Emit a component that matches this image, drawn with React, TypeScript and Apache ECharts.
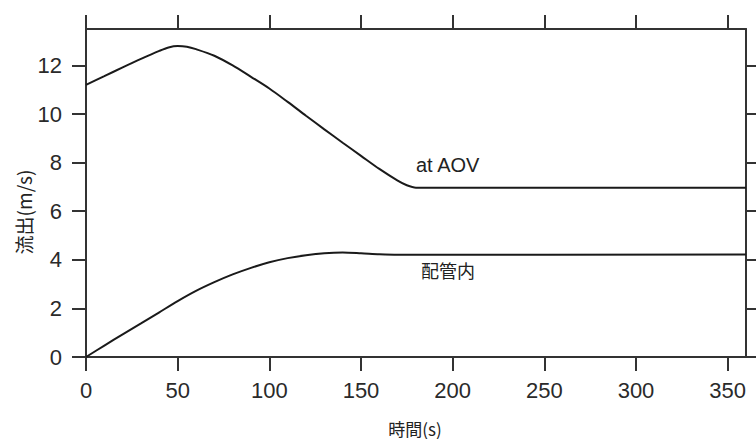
import React, { useEffect, useRef } from "react";
import * as echarts from "echarts";

const xTicks = [0, 50, 100, 150, 200, 250, 300, 350];
const yTicks = [0, 2, 4, 6, 8, 10, 12];

const aovTime = [0, 10, 20, 30, 40, 45, 50, 55, 60, 70, 80, 90, 100, 110, 120, 130, 140, 150, 160, 170, 175, 180, 360];
const aovFlow = [11.2, 11.56, 11.92, 12.27, 12.6, 12.74, 12.8, 12.77, 12.67, 12.4, 12.0, 11.53, 11.05, 10.5, 9.93, 9.37, 8.82, 8.28, 7.74, 7.26, 7.07, 6.97, 6.97];

const pipeTime = [0, 10, 20, 30, 40, 50, 60, 70, 80, 90, 100, 110, 120, 130, 140, 150, 160, 170, 360];
const pipeFlow = [0, 0.47, 0.93, 1.38, 1.84, 2.3, 2.72, 3.08, 3.4, 3.67, 3.9, 4.07, 4.19, 4.27, 4.3, 4.27, 4.23, 4.21, 4.22];

const xName = "時間(s)";
const yName = "流出(m/s)";
const aovLabel = "at AOV";
const pipeLabel = "配管内";

const AXIS = "#333";
const LINE = "#1a1a1a";
const LATIN = "'Liberation Sans', Arial, Helvetica, sans-serif";
const CJK = "'Noto Sans CJK JP', 'Liberation Sans', sans-serif";

export default function App() {
  const ref = useRef<HTMLDivElement>(null);
  useEffect(() => {
    if (!ref.current) return;
    const chart = echarts.init(ref.current, null, { renderer: "svg" });
    const axisLine = { show: true, onZero: false, lineStyle: { color: AXIS, width: 2 } };
    const tick = (vals: number[]) => ({
      show: true,
      inside: false,
      length: 14,
      customValues: vals,
      lineStyle: { color: AXIS, width: 2 },
    });
    const labelStyle = {
      color: "#2a2a2a",
      fontFamily: LATIN,
      fontSize: 22,
    };
    chart.setOption({
      animation: false,
      backgroundColor: "#fff",
      grid: { left: 86, right: 10, top: 29, bottom: 82, containLabel: false },
      xAxis: [
        {
          type: "value",
          position: "bottom",
          min: 0,
          max: 360,
          interval: 50,
          axisLine,
          axisTick: tick(xTicks),
          axisLabel: { ...labelStyle, margin: 22, customValues: xTicks },
          splitLine: { show: false },
        },
        {
          type: "value",
          position: "top",
          min: 0,
          max: 360,
          interval: 50,
          axisLine,
          axisTick: tick(xTicks),
          axisLabel: { show: false },
          splitLine: { show: false },
        },
      ],
      yAxis: [
        {
          type: "value",
          position: "left",
          min: 0,
          max: 13.5,
          interval: 2,
          axisLine,
          axisTick: tick(yTicks),
          axisLabel: { ...labelStyle, margin: 24, customValues: yTicks },
          splitLine: { show: false },
        },
        {
          type: "value",
          position: "right",
          min: 0,
          max: 13.5,
          interval: 2,
          axisLine,
          axisTick: tick(yTicks),
          axisLabel: { show: false },
          splitLine: { show: false },
        },
      ],
      series: [
        {
          type: "line",
          name: aovLabel,
          data: aovTime.map((t, i) => [t, aovFlow[i]]),
          showSymbol: false,
          smooth: 0.3,
          lineStyle: { color: LINE, width: 2 },
        },
        {
          type: "line",
          name: pipeLabel,
          data: pipeTime.map((t, i) => [t, pipeFlow[i]]),
          showSymbol: false,
          smooth: 0.3,
          lineStyle: { color: LINE, width: 2 },
        },
      ],
      graphic: [
        {
          type: "text",
          x: 416,
          y: 165,
          style: {
            text: aovLabel,
            fontSize: 20,
            fontFamily: LATIN,
            fill: "#222",
            textAlign: "left",
            textVerticalAlign: "middle",
          },
        },
        {
          type: "text",
          x: 421,
          y: 270,
          style: {
            text: pipeLabel,
            fontSize: 18,
            fontFamily: CJK,
            fill: "#222",
            textAlign: "left",
            textVerticalAlign: "middle",
          },
        },
        {
          type: "text",
          x: 415,
          y: 428,
          style: {
            text: xName,
            fontSize: 17,
            fontFamily: CJK,
            fill: "#222",
            textAlign: "center",
            textVerticalAlign: "middle",
          },
        },
        {
          type: "text",
          x: 23,
          y: 212,
          rotation: Math.PI / 2,
          style: {
            text: yName,
            fontSize: 19,
            fontFamily: CJK,
            fill: "#222",
            textAlign: "center",
            textVerticalAlign: "middle",
          },
        },
      ],
    });
    return () => chart.dispose();
  }, []);
  return (
    <div
      ref={ref}
      style={{ position: "absolute", left: 0, top: 0, width: 756, height: 439 }}
    />
  );
}
